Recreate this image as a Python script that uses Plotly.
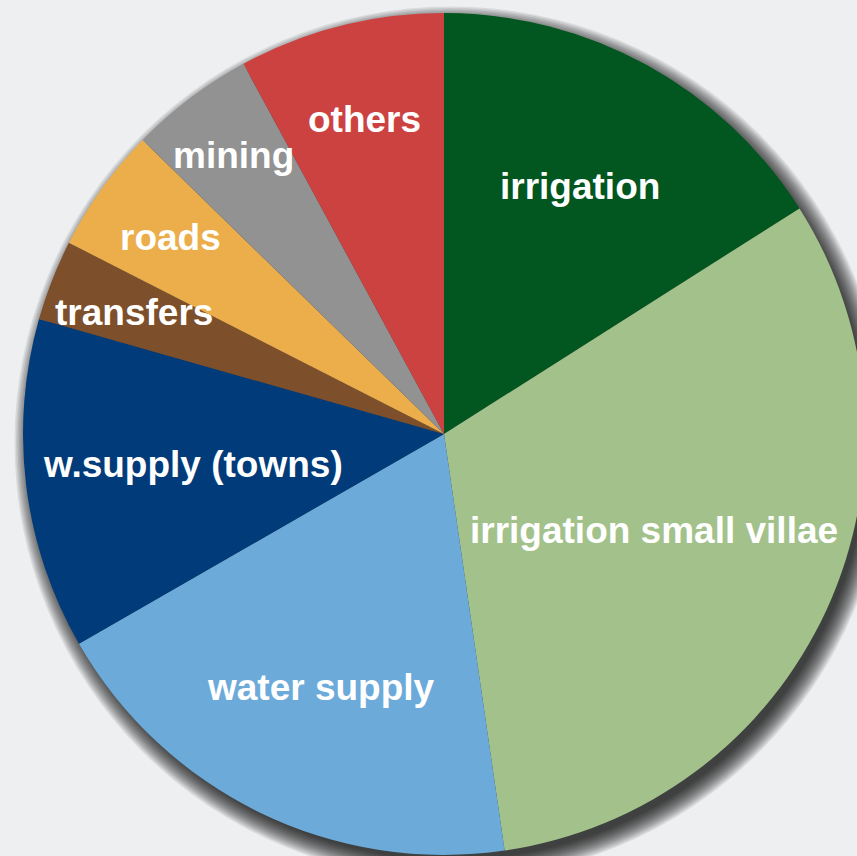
import math
import plotly.graph_objects as go

labels = ["irrigation", "irrigation small villae", "water supply", "w.supply (towns)",
          "transfers", "roads", "mining", "others"]
values = [16.0, 31.7, 19.0, 12.7, 3.1, 4.8, 4.8, 7.9]
colors = ["#02561f", "#a3c28b", "#6caad9", "#013b79",
          "#7e4f2b", "#ebae4b", "#919291", "#cc4241"]
label_radius = [0.67, 0.55, 0.67, 0.60, 0.79, 0.80, 0.83, 0.77]

W, H = 880, 856
CX, CY, R = 444, 434, 421

fig = go.Figure()
fig.add_trace(go.Pie(
    labels=labels, values=values, sort=False, direction="clockwise", rotation=0,
    marker=dict(colors=colors, line=dict(width=0)),
    textinfo="none", hoverinfo="label+percent", showlegend=False,
    domain=dict(x=[(CX - R) / W, (CX + R) / W],
                y=[(H - CY - R) / H, (H - CY + R) / H]),
))

# soft drop shadow (lower right)
shapes = []
for k in range(14):
    rr = R - 4 + k * 1.5
    ox, oy = 7, 9
    shapes.append(dict(type="circle", xref="paper", yref="paper", layer="below",
                       x0=(CX + ox - rr) / W, x1=(CX + ox + rr) / W,
                       y0=(H - CY - oy - rr) / H, y1=(H - CY - oy + rr) / H,
                       fillcolor="rgba(0,0,0,0.085)", line=dict(width=0)))

total = sum(values)
annotations = []
cum = 0
for lab, v, fr in zip(labels, values, label_radius):
    mid = (cum + v / 2) / total * 2 * math.pi
    cum += v
    px = CX + fr * R * math.sin(mid)
    py = CY - fr * R * math.cos(mid)
    annotations.append(dict(text=lab, x=px / W, y=1 - py / H, xref="paper", yref="paper",
                            showarrow=False, xanchor="center", yanchor="middle",
                            font=dict(family="Liberation Sans, Arial", size=37, color="white",
                                      weight="bold")))

fig.update_layout(width=W, height=H, margin=dict(l=0, r=0, t=0, b=0),
                  paper_bgcolor="#eeeff1", plot_bgcolor="#eeeff1",
                  shapes=shapes, annotations=annotations)
fig.write_html("out.html", config={"displayModeBar": False},
               post_script="document.body.style.margin='0';"
                           "document.body.style.overflow='hidden';"
                           "document.documentElement.style.overflow='hidden';")
